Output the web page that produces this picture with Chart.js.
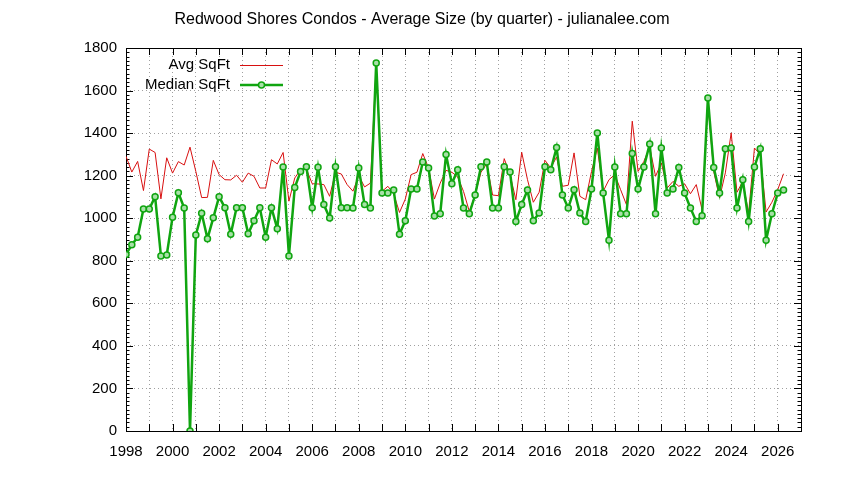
<!DOCTYPE html>
<html>
<head>
<meta charset="utf-8">
<script src="https://cdn.jsdelivr.net/npm/chart.js@4/dist/chart.umd.min.js"></script>
<style>
html,body{margin:0;padding:0;background:#fff;}
#wrap{width:844px;height:480px;}
</style>
</head>
<body>
<div id="wrap"><canvas id="c" width="844" height="480"></canvas></div>
<script>
// ---- data (quarterly, 1998 Q1 .. 2026 Q2) ----
const quarterLabels = [];
for (let y = 1998; y <= 2026; y++) for (let q = 1; q <= 4; q++) {
  if (y === 2026 && q > 2) break;
  quarterLabels.push(y + ' Q' + q);
}
const avgSqFt = [
  1291,1217,1267,1130,1325,1309,1091,1284,1212,1266,1250,1334,1220,1097,1098,1272,1205,1181,1180,1202,
  1169,1212,1197,1142,1142,1275,1255,1309,1080,1189,1228,1231,1162,1161,1158,1103,1216,1208,1158,1127,
  1200,1147,1165,1720,1126,1150,1115,1027,1090,1205,1216,1304,1236,1090,1165,1225,1216,1194,1126,1032,
  1109,1216,1256,1109,1106,1280,1205,1087,1310,1181,1075,1122,1272,1236,1288,1150,1155,
  1307,1103,1087,1220,1330,1126,1181,1205,1134,1064,1456,1220,1267,1335,1197,1260,1142,1173,1150,1162,
  1115,1158,1040,1542,1220,1095,1213,1401,1122,1173,1024,1330,1299,1029,1075,1134,1209
];
const medianSqFt = [
  830,875,911,1043,1043,1101,823,827,1005,1120,1048,0,921,1023,904,1002,1101,1049,925,1049,
  1049,927,988,1049,911,1049,951,1241,823,1144,1219,1242,1049,1239,1064,1001,1242,1049,1049,
  1048,1236,1064,1048,1730,1118,1118,1133,925,988,1137,1137,1264,1236,1010,1021,1299,1162,1228,1048,
  1021,1109,1242,1264,1048,1048,1242,1217,985,1064,1133,988,1024,1242,1228,1332,1109,1048,
  1134,1024,985,1137,1401,1118,897,1241,1021,1021,1304,1137,1241,1349,1021,1330,1118,1137,1238,1118,
  1048,985,1012,1565,1238,1118,1327,1330,1048,1181,985,1241,1327,897,1021,1118,1133
];
const xTickYears = [1998,2000,2002,2004,2006,2008,2010,2012,2014,2016,2018,2020,2022,2024,2026];
const yTicks = [0,200,400,600,800,1000,1200,1400,1600,1800];
const titleText = 'Redwood Shores Condos - Average Size (by quarter) - julianalee.com';
const seriesNames = ['Avg SqFt', 'Median SqFt'];

function toX(label) {
  const [y, q] = label.split(' Q');
  return Number(y) + (Number(q) - 1) / 4;
}
const avgPts = quarterLabels.map((l, i) => ({x: toX(l), y: avgSqFt[i]}));
const medPts = quarterLabels.map((l, i) => ({x: toX(l), y: medianSqFt[i]}));

const RED = '#d81010';
const GREEN = '#10a510';
const FONT = '"Liberation Sans", Arial, sans-serif';

const framePlugin = {
  id: 'gnuFrame',
  beforeDatasetsDraw(chart) {
    const {ctx, chartArea: a, scales: {x, y}} = chart;
    ctx.save();
    ctx.strokeStyle = '#000';
    ctx.lineWidth = 1;
    ctx.beginPath();
    for (let yr = 1998; yr <= 2027; yr++) {
      const px = Math.round(x.getPixelForValue(yr)) + 0.5;
      ctx.moveTo(px, a.bottom); ctx.lineTo(px, a.bottom - 7);
      ctx.moveTo(px, a.top); ctx.lineTo(px, a.top + 7);
    }
    for (let v = 0; v <= 1800; v += 20) {
      const py = Math.round(y.getPixelForValue(v)) + 0.5;
      const len = (v % 200 === 0) ? 7 : 3.5;
      ctx.moveTo(a.left, py); ctx.lineTo(a.left + len, py);
      ctx.moveTo(a.right, py); ctx.lineTo(a.right - len, py);
    }
    ctx.stroke();
    ctx.strokeRect(Math.round(a.left) + 0.5, Math.round(a.top) + 0.5,
                   Math.round(a.right - a.left), Math.round(a.bottom - a.top));
    ctx.restore();
  },
  afterDatasetsDraw(chart) {
    const {ctx, chartArea: a} = chart;
    ctx.save();
    ctx.font = '15px ' + FONT;
    ctx.fillStyle = '#000';
    ctx.textAlign = 'right';
    ctx.textBaseline = 'middle';
    const tx = a.left + 104, lx0 = a.left + 114, lx1 = a.left + 157;
    const r1 = a.top + 17, r2 = a.top + 37;
    ctx.fillText(seriesNames[0], tx, r1);
    ctx.fillText(seriesNames[1], tx, r2);
    ctx.strokeStyle = RED; ctx.lineWidth = 1;
    ctx.beginPath(); ctx.moveTo(lx0, r1 + 0.5); ctx.lineTo(lx1, r1 + 0.5); ctx.stroke();
    ctx.strokeStyle = GREEN; ctx.lineWidth = 2.5;
    ctx.beginPath(); ctx.moveTo(lx0, r2); ctx.lineTo(lx1, r2); ctx.stroke();
    ctx.lineWidth = 1.5; ctx.fillStyle = '#a8e0a8';
    ctx.beginPath(); ctx.arc((lx0 + lx1) / 2, r2, 3, 0, Math.PI * 2); ctx.fill(); ctx.stroke();
    ctx.restore();
  }
};

new Chart(document.getElementById('c'), {
  type: 'line',
  data: {
    datasets: [
      {label: seriesNames[0], data: avgPts, borderColor: RED, borderWidth: 1,
       pointRadius: 0, tension: 0, order: 1},
      {label: seriesNames[1], data: medPts, borderColor: GREEN, borderWidth: 2.5,
       pointRadius: 3, pointBorderWidth: 1.5, pointBackgroundColor: '#a8e0a8',
       pointBorderColor: GREEN, tension: 0, order: 0}
    ]
  },
  options: {
    responsive: false,
    animation: false,
    events: [],
    layout: {padding: {left: 0, right: 0, top: 0, bottom: 0}},
    plugins: {
      legend: {display: false},
      tooltip: {enabled: false},
      title: {display: true, text: titleText, color: '#000',
              font: {family: FONT, size: 16, weight: 'normal', lineHeight: 1.2},
              padding: {top: 10, bottom: 18.8}}
    },
    scales: {
      x: {
        type: 'linear', min: 1998, max: 2027,
        afterFit(s) { s.height = 49; },
        afterBuildTicks(s) {
          const t = [];
          for (let yr = 1998; yr <= 2027; yr++) t.push({value: yr});
          s.ticks = t;
        },
        ticks: {
          autoSkip: false, maxRotation: 0, padding: 12, color: '#000',
          font: {family: FONT, size: 15},
          callback: (v) => xTickYears.includes(v) ? String(v) : ''
        },
        grid: {color: '#a0a0a0', lineWidth: 1, drawTicks: false},
        border: {display: false, dash: [1, 3]}
      },
      y: {
        type: 'linear', min: 0, max: 1800,
        afterFit(s) { s.width = 126; },
        afterBuildTicks(s) { s.ticks = yTicks.map(v => ({value: v})); },
        ticks: {padding: 9, color: '#000', font: {family: FONT, size: 15},
                callback: (v) => String(v)},
        grid: {color: '#a0a0a0', lineWidth: 1, drawTicks: false},
        border: {display: false, dash: [1, 3]}
      },
      yRight: {
        type: 'linear', position: 'right', min: 0, max: 1800,
        afterFit(s) { s.width = 43; },
        ticks: {display: false},
        grid: {display: false, drawOnChartArea: false, drawTicks: false},
        border: {display: false}
      }
    }
  },
  plugins: [framePlugin]
});
</script>
</body>
</html>
